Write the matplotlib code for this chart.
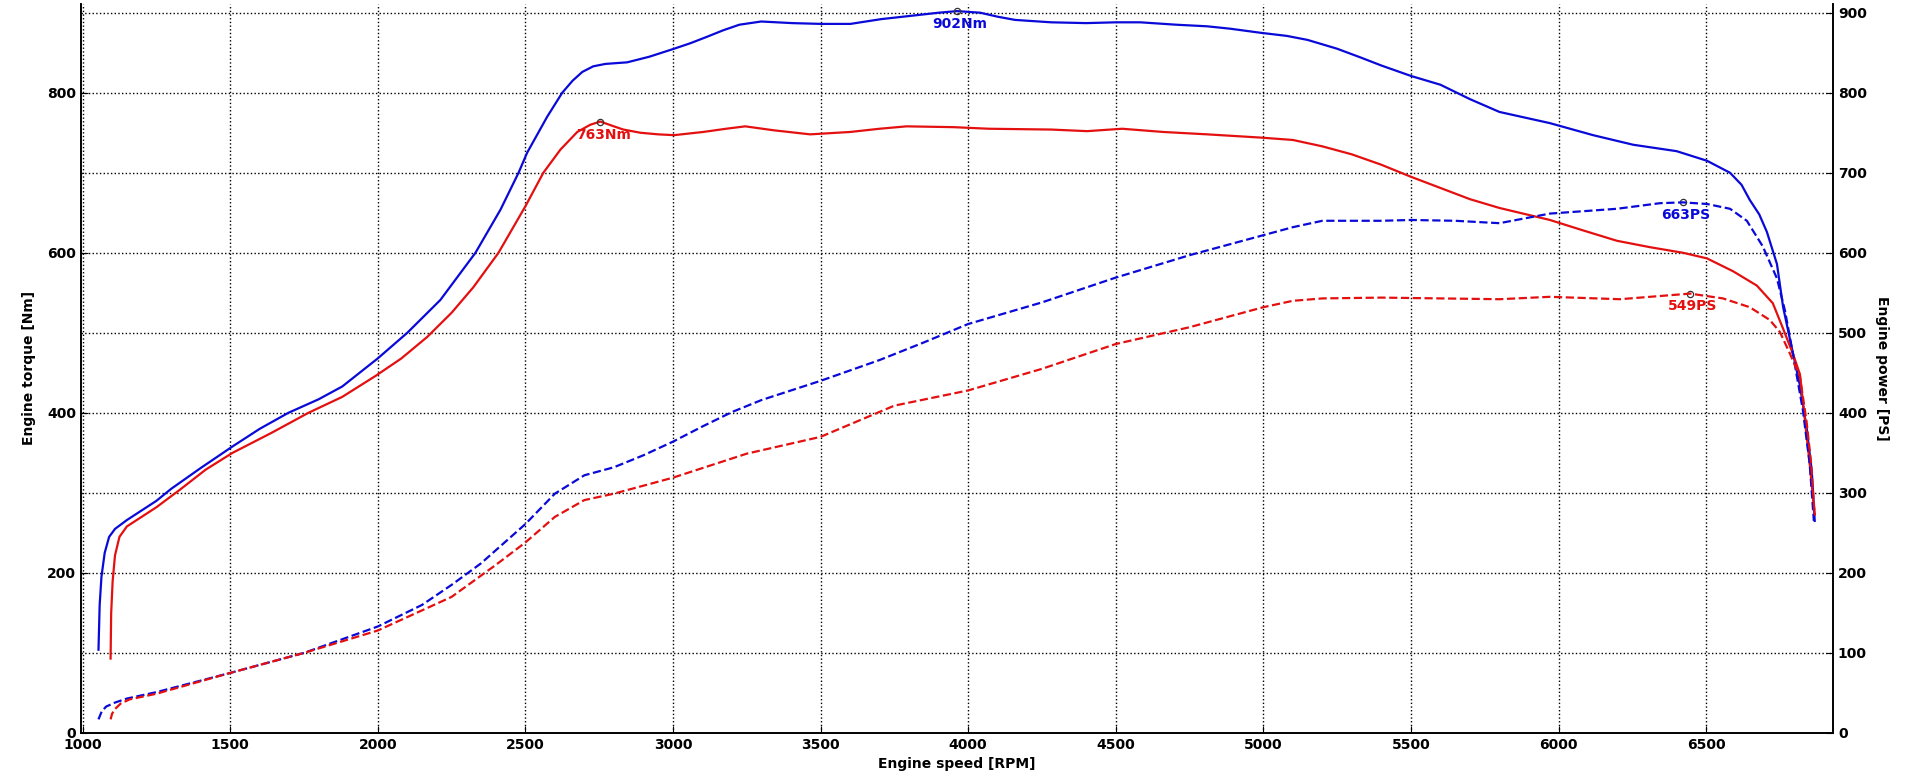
import numpy as np
import matplotlib.pyplot as plt

plt.rcParams['font.family'] = ['DejaVu Sans']
plt.rcParams['font.weight'] = 'bold'

BLUE = '#0a0ad8'
RED = '#e41010'

# tuned car - torque [Nm]
rpm_tq_tuned = [1054, 1058, 1064, 1075, 1090, 1110, 1150, 1200, 1250, 1300, 1400, 1508, 1600, 1697, 1800,
                1880, 2000, 2100, 2212, 2331, 2416, 2477, 2506, 2574, 2625, 2660, 2693, 2730, 2771,
                2845, 2920, 3004, 3060, 3116, 3170, 3225, 3299, 3404, 3503, 3601, 3706, 3828, 3900,
                3963, 4041, 4100, 4159, 4281, 4400, 4501, 4583, 4705, 4810, 4888, 4989, 5080, 5150,
                5250, 5330, 5400, 5500, 5600, 5700, 5800, 5971, 6117, 6253, 6400, 6503, 6581, 6620,
                6648, 6680, 6706, 6740, 6761, 6784, 6818, 6841, 6858, 6868]
tq_tuned = [104, 160, 195, 225, 245, 255, 266, 278, 290, 305, 331, 358, 380, 400, 417,
            433, 468, 500, 541, 600, 654, 700, 725, 770, 800, 815, 826, 833, 836,
            838, 845, 855, 862, 870, 878, 885, 889, 887, 886, 886, 892, 897, 900,
            902, 900, 895, 891, 888, 887, 888, 888, 885, 883, 880, 875, 871, 866,
            855, 844, 834, 821, 810, 792, 776, 762, 747, 735, 727, 715, 700, 685,
            666, 648, 626, 586, 532, 492, 434, 380, 327, 265]

# stock car - torque [Nm]
rpm_tq_stock = [1095, 1097, 1102, 1110, 1125, 1150, 1200, 1250, 1330, 1417, 1508, 1640, 1765, 1880, 1992,
                2080, 2168, 2250, 2324, 2409, 2500, 2561, 2619, 2676, 2720, 2754, 2800, 2832, 2890,
                2950, 3004, 3103, 3180, 3245, 3343, 3465, 3601, 3700, 3791, 3950, 4071, 4281, 4403,
                4522, 4660, 4810, 4989, 5100, 5200, 5300, 5400, 5500, 5600, 5700, 5800, 5971, 6083,
                6198, 6310, 6422, 6503, 6591, 6672, 6726, 6761, 6794, 6818, 6835, 6851, 6868]
tq_stock = [93, 150, 190, 222, 245, 258, 270, 282, 304, 329, 350, 375, 400, 420, 446,
            468, 495, 525, 557, 600, 658, 700, 729, 751, 760, 764, 758, 754, 750,
            748, 747, 751, 755, 758, 753, 748, 751, 755, 758, 757, 755, 754, 752,
            755, 751, 748, 744, 741, 733, 723, 710, 695, 681, 667, 656, 641, 628,
            615, 607, 600, 593, 577, 559, 537, 505, 474, 448, 390, 336, 273]

# tuned car - power [PS]
rpm_pw_tuned = [1054, 1065, 1080, 1110, 1150, 1250, 1500, 1750, 2000, 2150, 2250, 2350, 2500, 2600,
                2700, 2800, 2900, 3000, 3100, 3200, 3300, 3500, 3700, 3850, 4000, 4250, 4500, 4750,
                5000, 5100, 5200, 5400, 5500, 5650, 5800, 5971, 6198, 6344, 6422, 6503, 6581, 6638,
                6692, 6740, 6767, 6794, 6828, 6851, 6865]
pw_tuned = [17, 27, 33, 38, 43, 51, 75, 100, 133, 160, 185, 212, 261, 299,
            322, 332, 347, 364, 383, 401, 416, 440, 466, 488, 511, 538, 569, 597,
            622, 632, 640, 640, 641, 640, 637, 649, 655, 662, 663, 661, 655, 640,
            608, 568, 528, 474, 403, 336, 265]

# stock car - power [PS]
rpm_pw_stock = [1095, 1100, 1110, 1130, 1160, 1250, 1500, 1750, 2000, 2250, 2400, 2500, 2600, 2700,
                2800, 3000, 3250, 3500, 3750, 4000, 4250, 4500, 4750, 5000, 5100, 5200, 5400, 5600,
                5800, 5971, 6208, 6344, 6446, 6557, 6648, 6716, 6750, 6784, 6818, 6840, 6855, 6868]
pw_stock = [17, 24, 30, 37, 42, 49, 75, 100, 128, 170, 210, 238, 270, 291,
            299, 319, 349, 370, 409, 428, 455, 486, 507, 532, 540, 543, 544, 543,
            542, 545, 542, 546, 549, 543, 532, 516, 501, 474, 445, 390, 340, 272]

# peak markers
peaks = [(3963, 902, '902Nm', BLUE), (2754, 763, '763Nm', RED),
         (6422, 663, '663PS', BLUE), (6446, 549, '549PS', RED)]

fig = plt.figure(figsize=(19.12, 7.81), dpi=100)
ax = fig.add_axes([0.0424, 0.0615, 0.9163, 0.9335])
ax2 = ax.twinx()

ax.plot(rpm_tq_tuned, tq_tuned, color=BLUE, lw=1.6)
ax.plot(rpm_tq_stock, tq_stock, color=RED, lw=1.6)
ax2.plot(rpm_pw_tuned, pw_tuned, color=BLUE, lw=1.6, ls='--')
ax2.plot(rpm_pw_stock, pw_stock, color=RED, lw=1.6, ls='--')

for x, y, txt, c in peaks:
    ax.plot(x, y, 'o', mfc='none', mec='#333333', ms=4.5, mew=0.9, zorder=5)
    ax.annotate(txt, (x, y), xytext=(2, -4), textcoords='offset points',
                ha='center', va='top', color=c, fontsize=10, fontweight='bold')

ax.set_xlim(995, 6930)
ax.set_ylim(0, 911)
ax2.set_ylim(0, 911)

ax.set_xticks(np.arange(1000, 7000, 500))
ax.set_yticks(np.arange(0, 900, 200))
ax.set_yticks(np.arange(0, 1000, 100), minor=True)
ax2.set_yticks(np.arange(0, 1000, 100))

ax.grid(True, which='both', color='black', ls=':', lw=1.0)
ax.tick_params(axis='both', which='major', direction='in', labelsize=10, length=5)
ax.tick_params(axis='y', which='minor', length=0)
ax2.tick_params(axis='y', direction='in', labelsize=10, length=5)

for a in (ax, ax2):
    a.spines['top'].set_visible(False)
    for s in ('left', 'right', 'bottom'):
        a.spines[s].set_linewidth(1.2)

ax.set_xlabel('Engine speed [RPM]', fontsize=10, fontweight='bold', labelpad=4)
ax.set_ylabel('Engine torque [Nm]', fontsize=10, fontweight='bold', labelpad=8)
ax2.set_ylabel('Engine power [PS]', fontsize=10, fontweight='bold', rotation=270, labelpad=16)

fig.savefig('out.png', dpi=100)
